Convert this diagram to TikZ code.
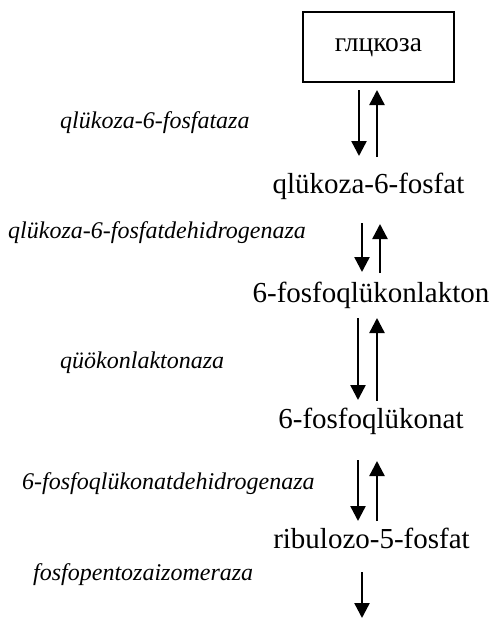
\documentclass[tikz,border=0pt]{standalone}
\usepackage{fontspec}
\setmainfont{Liberation Serif}
\usetikzlibrary{arrows.meta}
\tikzset{
  compound/.style={inner sep=0pt, anchor=base, font=\fontsize{29}{32}\selectfont},
  enzyme/.style={inner sep=0pt, anchor=base west, font=\fontsize{24}{28}\selectfont\itshape},
  rxn/.style={line width=2.4pt, -{Triangle[length=15pt,width=15pt]}},
  startbox/.style={draw, line width=2.2pt, minimum width=151pt, minimum height=70pt, inner sep=0pt}
}
\begin{document}
\begin{tikzpicture}[x=1pt,y=-1pt]
\useasboundingbox (0,0) rectangle (494,618);

% starting substrate in a frame
\node[startbox] (box) at (378.5,47) {};
\node[inner sep=0pt, anchor=base, font=\fontsize{27.5}{30}\selectfont] (glc) at (378.5,51.5) {глцкоза};

% compounds of the pathway
\node[compound] (g6p) at (368.5,193) {qlükoza-6-fosfat};
\node[compound] (lac) at (371,302) {6-fosfoqlükonlakton};
\node[compound] (gnt) at (371,428) {6-fosfoqlükonat};
\node[compound] (ru5p) at (371.5,548) {ribulozo-5-fosfat};

% enzymes
\node[enzyme] (e1) at (60,128) {qlükoza-6-fosfataza};
\node[enzyme] (e2) at (8,238) {qlükoza-6-fosfatdehidrogenaza};
\node[enzyme] (e3) at (60,368) {qüökonlaktonaza};
\node[enzyme] (e4) at (22,489) {6-fosfoqlükonatdehidrogenaza};
\node[enzyme] (e5) at (33,580) {fosfopentozaizomeraza};

% arrow end points
\coordinate (a1t) at (359,90);  \coordinate (a1b) at (359,156);
\coordinate (b1t) at (377,90);  \coordinate (b1b) at (377,157);
\coordinate (a2t) at (362,223); \coordinate (a2b) at (362,272);
\coordinate (b2t) at (380,224); \coordinate (b2b) at (380,273);
\coordinate (a3t) at (358,318); \coordinate (a3b) at (358,400);
\coordinate (b3t) at (377,318); \coordinate (b3b) at (377,401);
\coordinate (a4t) at (358,460); \coordinate (a4b) at (358,521);
\coordinate (b4t) at (377,461); \coordinate (b4b) at (377,521);
\coordinate (a5t) at (362,572); \coordinate (a5b) at (362,618);

% reversible steps
\draw[rxn] (a1t) -- (a1b);
\draw[rxn] (b1b) -- (b1t);
\draw[rxn] (a2t) -- (a2b);
\draw[rxn] (b2b) -- (b2t);
\draw[rxn] (a3t) -- (a3b);
\draw[rxn] (b3b) -- (b3t);
\draw[rxn] (a4t) -- (a4b);
\draw[rxn] (b4b) -- (b4t);
% onward step
\draw[rxn] (a5t) -- (a5b);
\end{tikzpicture}
\end{document}
